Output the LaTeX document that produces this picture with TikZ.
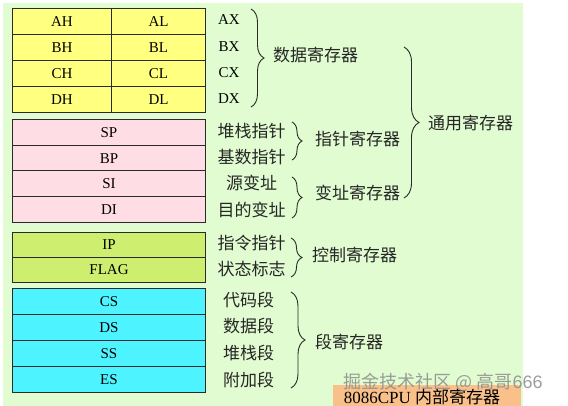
\documentclass[tikz,border=0pt]{standalone}
\usepackage{fontspec}
\setmainfont{Liberation Serif}
\newfontfamily\cjk{Noto Sans CJK SC}
\newfontfamily\wmfont{Liberation Sans}
\usetikzlibrary{decorations.pathreplacing}
\definecolor{bggreen}{HTML}{E0FCD0}
\definecolor{regyellow}{HTML}{FFFF80}
\definecolor{regpink}{HTML}{FFDDE4}
\definecolor{reggreen}{HTML}{CDEE6E}
\definecolor{regcyan}{HTML}{4DF3FF}
\definecolor{capor}{HTML}{F9C08A}
\definecolor{linecol}{HTML}{2A2A2A}
\tikzset{
  cell/.style={draw=linecol, line width=1pt, inner sep=0pt, anchor=north west,
    font=\fontsize{15}{15}\selectfont, text=black},
  ylw/.style={cell, fill=regyellow, minimum height=26pt},
  pnk/.style={cell, fill=regpink, minimum width=193pt, minimum height=25.75pt},
  grn/.style={cell, fill=reggreen, minimum width=193pt, minimum height=25pt},
  cyn/.style={cell, fill=regcyan, minimum width=193pt, minimum height=26pt},
  reglab/.style={inner sep=0pt, font=\fontsize{15}{15}\selectfont},
  cjklab/.style={inner sep=0pt, font=\cjk\fontsize{17}{17}\selectfont, text=black!85},
  grplab/.style={cjklab, anchor=west},
  brc/.style={decorate, decoration={brace, amplitude=#1}, draw=linecol, line width=0.9pt},
}
\begin{document}
\begin{tikzpicture}[x=1pt,y=-1pt]
\useasboundingbox (0,0) rectangle (568,406);
\fill[bggreen] (3,3) rectangle (523,406);

% general-purpose data registers
\node[ylw, minimum width=99pt] (ah) at (12,8) {AH};
\node[ylw, minimum width=94pt] (al) at (111,8) {AL};
\node[ylw, minimum width=99pt] (bh) at (12,34) {BH};
\node[ylw, minimum width=94pt] (bl) at (111,34) {BL};
\node[ylw, minimum width=99pt] (ch) at (12,60) {CH};
\node[ylw, minimum width=94pt] (cl) at (111,60) {CL};
\node[ylw, minimum width=99pt] (dh) at (12,86) {DH};
\node[ylw, minimum width=94pt] (dl) at (111,86) {DL};
\node[reglab] (ax) at (229,20) {AX};
\node[reglab] (bx) at (229,47) {BX};
\node[reglab] (cx) at (229,73) {CX};
\node[reglab] (dx) at (229,99) {DX};

% pointer / index
\node[pnk] (sp) at (12,119) {SP};
\node[pnk] (bp) at (12,144.75) {BP};
\node[pnk] (si) at (12,170.5) {SI};
\node[pnk] (di) at (12,196.25) {DI};
\node[cjklab] (spl) at (251.5,131) {堆栈指针};
\node[cjklab] (bpl) at (251.5,157) {基数指针};
\node[cjklab] (sil) at (251.5,183) {源变址};
\node[cjklab] (dil) at (251.5,210) {目的变址};

% control
\node[grn] (ip) at (12,232) {IP};
\node[grn] (flag) at (12,257) {FLAG};
\node[cjklab] (ipl) at (251.5,243) {指令指针};
\node[cjklab] (flagl) at (251.5,269) {状态标志};

% segment
\node[cyn] (cs) at (12,288) {CS};
\node[cyn] (ds) at (12,314) {DS};
\node[cyn] (ss) at (12,340) {SS};
\node[cyn] (es) at (12,366) {ES};
\node[cjklab] (csl) at (248.5,300) {代码段};
\node[cjklab] (dsl) at (248.5,326) {数据段};
\node[cjklab] (ssl) at (248.5,353) {堆栈段};
\node[cjklab] (esl) at (248.5,380) {附加段};

% braces
\coordinate (b1t) at (251,9);   \coordinate (b1b) at (251,107);
\coordinate (b2t) at (404,47);  \coordinate (b2b) at (404,198);
\coordinate (b3t) at (292,122); \coordinate (b3b) at (292,160);
\coordinate (b4t) at (292,177); \coordinate (b4b) at (292,218);
\coordinate (b5t) at (291,238); \coordinate (b5b) at (291,277);
\coordinate (b6t) at (291,292); \coordinate (b6b) at (291,388);
\draw[brc=13pt] (b1t) -- (b1b);
\draw[brc=15pt] (b2t) -- (b2b);
\draw[brc=10pt] (b3t) -- (b3b);
\draw[brc=10pt] (b4t) -- (b4b);
\draw[brc=11pt] (b5t) -- (b5b);
\draw[brc=14pt] (b6t) -- (b6b);

\node[grplab] (data) at (273,55) {数据寄存器};
\node[grplab] (gen) at (428,123) {通用寄存器};
\node[grplab] (ptr) at (315,139) {指针寄存器};
\node[grplab] (idx) at (315,193) {变址寄存器};
\node[grplab] (ctl) at (312,255) {控制寄存器};
\node[grplab] (seg) at (315,342) {段寄存器};

% caption
\node[fill=capor, anchor=north west, minimum width=188pt, minimum height=21pt, inner sep=0pt] (capbox) at (333,385) {};
\node[inner sep=0pt, font=\fontsize{17}{17}\selectfont] (cap) at (422,397) {8086CPU {\cjk 内部寄存器}};
\node[inner sep=0pt, text=black!45, opacity=0.85, font=\cjk\fontsize{18}{18}\selectfont] (wm) at (443,382) {掘金技术社区 @ 高哥{\wmfont 666}};
\end{tikzpicture}
\end{document}
